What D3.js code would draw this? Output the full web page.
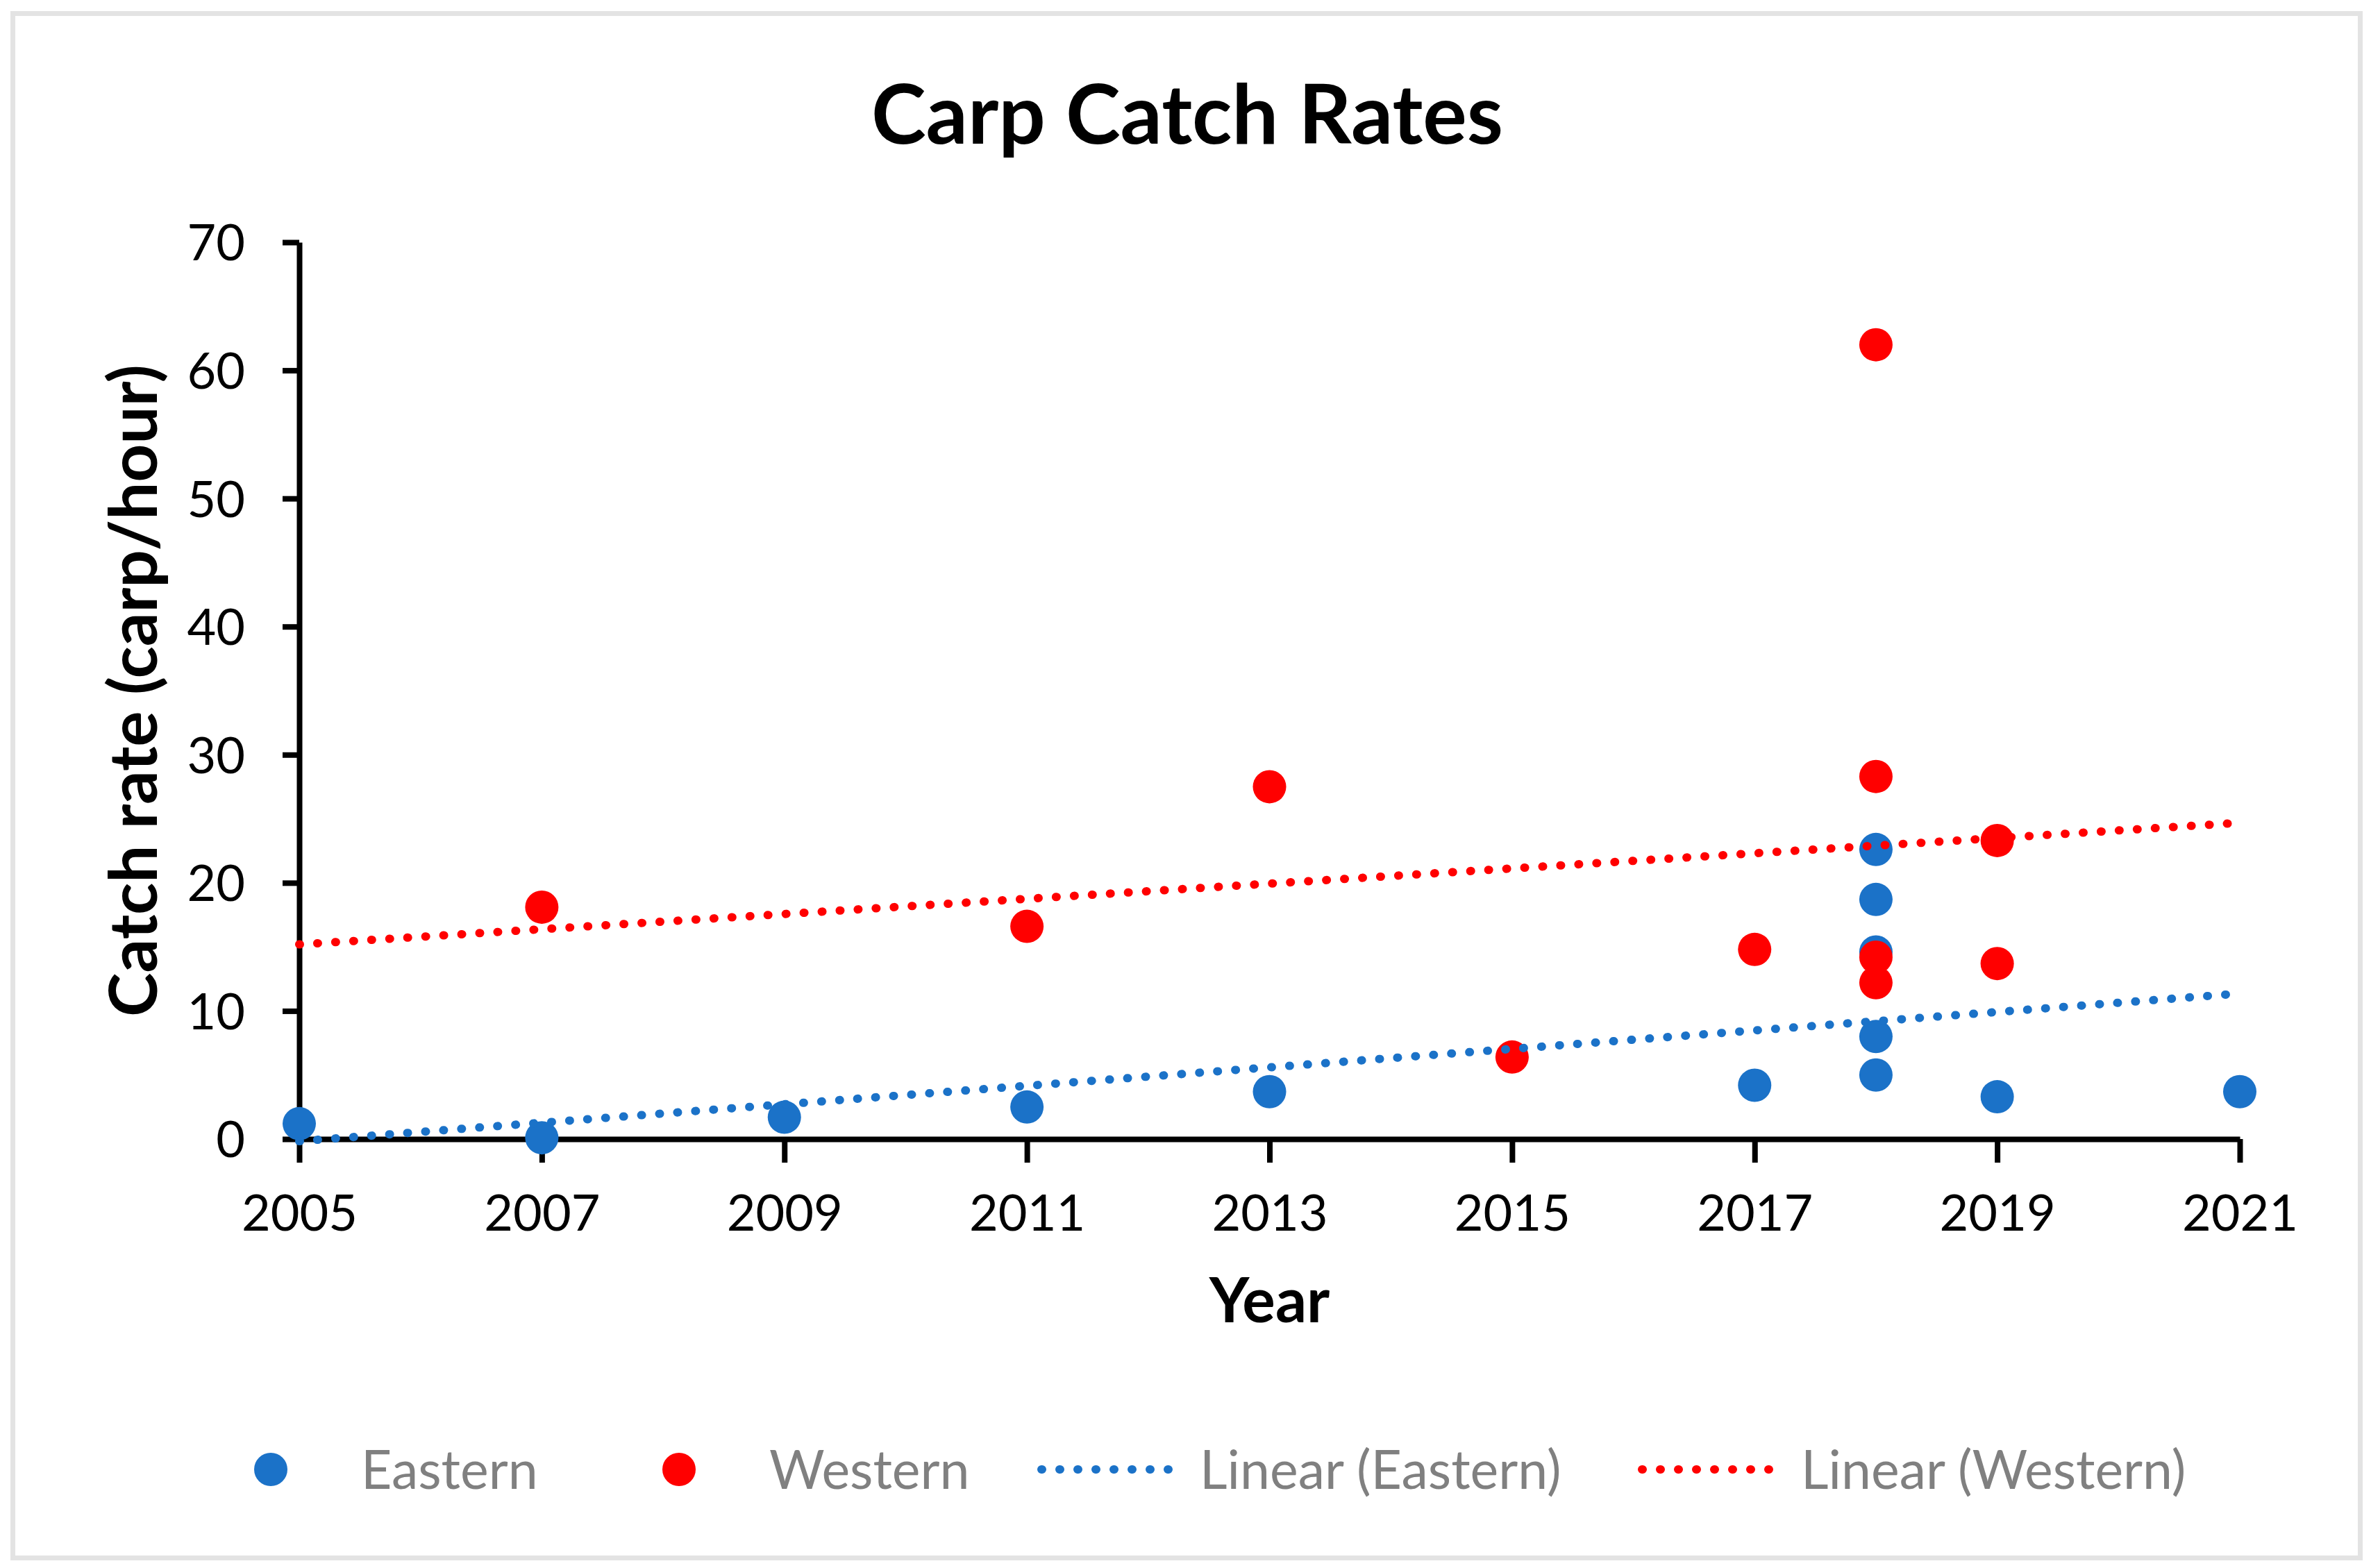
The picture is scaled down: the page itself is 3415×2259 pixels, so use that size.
<!DOCTYPE html>
<html>
<head>
<meta charset="utf-8">
<script src="https://cdn.jsdelivr.net/npm/d3@7"></script>
<style>
  body { margin: 0; background: #fff; }
  text { font-family: Lato, "Open Sans", sans-serif; }
</style>
</head>
<body>
<div id="chart"></div>
<script>
// data
var easternYears = [2005, 2007, 2009, 2011, 2013, 2017, 2018, 2018, 2018, 2018, 2018, 2019, 2021];
var easternRates = [1.2, 0.1, 1.7, 2.5, 3.7, 4.2, 22.6, 18.7, 14.6, 8.0, 5.0, 3.3, 3.7];

var westernYears = [2007, 2011, 2013, 2015, 2017, 2018, 2018, 2018, 2018, 2019, 2019];
var westernRates = [18.1, 16.6, 27.5, 6.4, 14.8, 62.0, 28.3, 14.2, 12.2, 23.3, 13.7];

var xTicks = [2005, 2007, 2009, 2011, 2013, 2015, 2017, 2019, 2021];
var yTicks = [0, 10, 20, 30, 40, 50, 60, 70];

var legendLabels = ["Eastern", "Western", "Linear (Eastern)", "Linear (Western)"];

var blue = "#1b72c8";
var red = "#ff0000";

var svgWidth = 3415;
var svgHeight = 2259;

var margin = {
    top: 349,
    right: 189,
    bottom: 618,
    left: 431
  };

var chartWidth = svgWidth - margin.left - margin.right;
var chartHeight = svgHeight - margin.top - margin.bottom;

var svg = d3.select("#chart")
  .append("svg")
  .attr("width", svgWidth)
  .attr("height", svgHeight);

// outer frame
svg.append("rect")
  .attr("x", 18.5)
  .attr("y", 19.5)
  .attr("width", 3381)
  .attr("height", 2225)
  .attr("fill", "#fff")
  .attr("stroke", "#e3e3e3")
  .attr("stroke-width", 7);

var chartGroup = svg.append("g")
  .attr("transform", `translate(${margin.left}, ${margin.top})`);

var xLinearScale = d3.scaleLinear()
  .domain([2005, 2021])
  .range([0, chartWidth]);

var yLinearScale = d3.scaleLinear()
  .domain([0, 70])
  .range([chartHeight, 0]);

var bottomAxis = d3.axisBottom(xLinearScale)
  .tickValues(xTicks)
  .tickFormat(d3.format("d"))
  .tickSizeInner(34)
  .tickSizeOuter(0)
  .tickPadding(47);

var leftAxis = d3.axisLeft(yLinearScale)
  .tickValues(yTicks)
  .tickSizeInner(24)
  .tickSizeOuter(0)
  .tickPadding(54);

var xAxisG = chartGroup.append("g")
  .attr("transform", `translate(0, ${chartHeight})`)
  .call(bottomAxis);

var yAxisG = chartGroup.append("g")
  .call(leftAxis);

[xAxisG, yAxisG].forEach(function(g) {
  g.select(".domain").attr("stroke", "#000").attr("stroke-width", 8);
  g.selectAll(".tick line").attr("stroke", "#000").attr("stroke-width", 8);
  g.selectAll(".tick text")
    .attr("font-family", "Lato, 'Open Sans', sans-serif")
    .attr("font-size", 72)
    .attr("fill", "#000");
});
yAxisG.selectAll(".tick text").attr("dy", "0.36em");

// least squares fit, as the spreadsheet trendline does
function linearFit(xs, ys) {
  var mx = d3.mean(xs), my = d3.mean(ys);
  var sxy = d3.sum(xs, (x, i) => (x - mx) * (ys[i] - my));
  var sxx = d3.sum(xs, x => (x - mx) * (x - mx));
  var slope = sxy / sxx;
  return x => my + slope * (x - mx);
}

var series = [
  {name: "Eastern", years: easternYears, rates: easternRates, color: blue},
  {name: "Western", years: westernYears, rates: westernRates, color: red}
];

series.forEach(function(s) {
  chartGroup.selectAll(null)
    .data(s.years.map((y, i) => ({year: y, rate: s.rates[i]})))
    .enter()
    .append("circle")
    .attr("cx", d => xLinearScale(d.year))
    .attr("cy", d => yLinearScale(d.rate))
    .attr("r", 24)
    .attr("fill", s.color);
});

var trendLine = d3.line()
  .x(d => xLinearScale(d[0]))
  .y(d => yLinearScale(d[1]));

series.forEach(function(s) {
  var fit = linearFit(s.years, s.rates);
  var ends = xLinearScale.domain();
  chartGroup.append("path")
    .datum(ends.map(x => [x, fit(x)]))
    .attr("d", trendLine)
    .attr("fill", "none")
    .attr("stroke", s.color)
    .attr("stroke-width", 12)
    .attr("stroke-linecap", "round")
    .attr("stroke-dasharray", "1 25");
});

// titles
svg.append("text")
  .attr("x", 1710)
  .attr("y", 207)
  .attr("text-anchor", "middle")
  .attr("font-size", 119)
  .attr("font-weight", "bold")
  .attr("fill", "#000")
  .text("Carp Catch Rates");

chartGroup.append("text")
  .attr("transform", `translate(${226 - margin.left}, ${chartHeight / 2}) rotate(-90)`)
  .attr("text-anchor", "middle")
  .attr("font-size", 96)
  .attr("font-weight", "bold")
  .attr("fill", "#000")
  .text("Catch rate (carp/hour)");

chartGroup.append("text")
  .attr("x", chartWidth / 2)
  .attr("y", 1905 - margin.top)
  .attr("text-anchor", "middle")
  .attr("font-size", 89)
  .attr("font-weight", "bold")
  .attr("fill", "#000")
  .text("Year");

// legend
var legendY = 2117;
var legendItems = [
  {label: legendLabels[0], kind: "dot", color: blue, x: 390, tx: 520},
  {label: legendLabels[1], kind: "dot", color: red, x: 978, tx: 1108},
  {label: legendLabels[2], kind: "line", color: blue, x: 1494, tx: 1728},
  {label: legendLabels[3], kind: "line", color: red, x: 2359, tx: 2594}
];

var legend = svg.append("g");

legendItems.forEach(function(item) {
  if (item.kind === "dot") {
    legend.append("circle")
      .attr("cx", item.x)
      .attr("cy", legendY)
      .attr("r", 24)
      .attr("fill", item.color);
  } else {
    legend.append("line")
      .attr("x1", item.x + 6)
      .attr("x2", item.x + 211)
      .attr("y1", legendY)
      .attr("y2", legendY)
      .attr("stroke", item.color)
      .attr("stroke-width", 12)
      .attr("stroke-linecap", "round")
      .attr("stroke-dasharray", "1 25");
  }
  legend.append("text")
    .attr("x", item.tx)
    .attr("y", legendY + 28)
    .attr("font-size", 77)
    .attr("fill", "#808080")
    .text(item.label);
});
</script>
</body>
</html>
